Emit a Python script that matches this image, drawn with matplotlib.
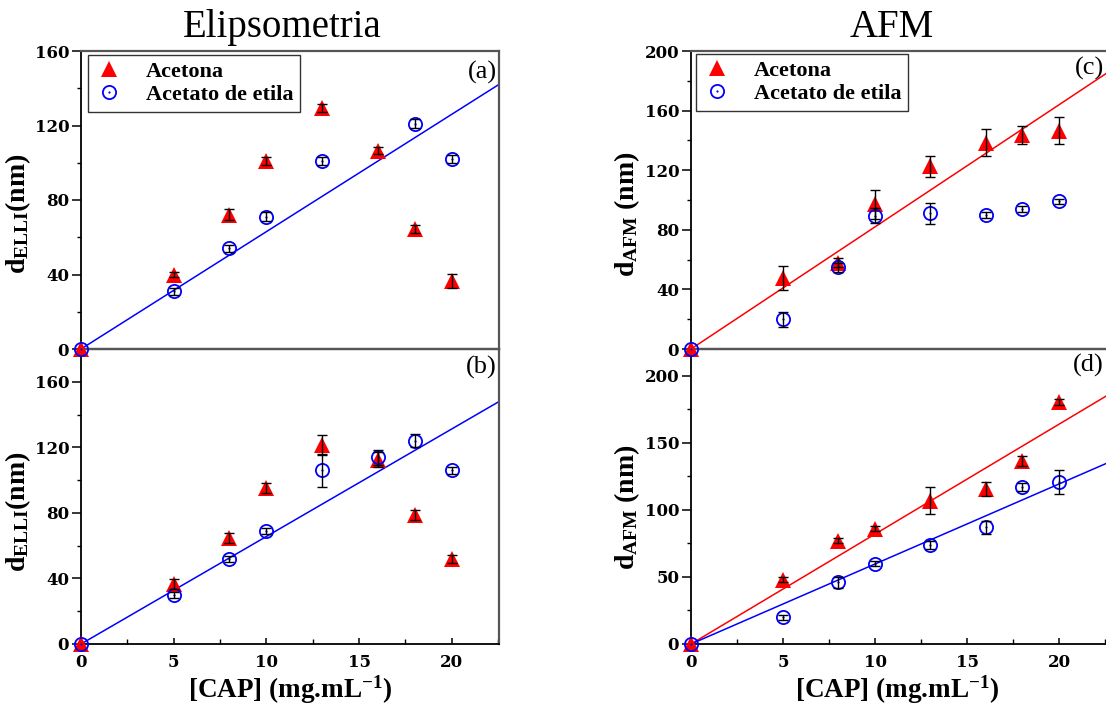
import numpy as np
import matplotlib
matplotlib.use("Agg")
import matplotlib.pyplot as plt
from matplotlib.ticker import MultipleLocator
from matplotlib.lines import Line2D

plt.rcParams['mathtext.fontset'] = 'custom'
plt.rcParams['mathtext.rm'] = 'Liberation Serif:bold'
plt.rcParams['mathtext.bf'] = 'Liberation Serif:bold'
plt.rcParams['mathtext.it'] = 'Liberation Serif:bold'

# ---------------- data ----------------
cap = [0, 5, 8, 10, 13, 16, 18, 20]
cap_etil_a = [0, 5, 8, 10, 13, 18, 20]

# (a) Elipsometria, top
acet_a = [0, 40, 72, 101, 129.5, 106.5, 64.5, 36.5]
acet_a_err = [0, 1.5, 3, 2, 2, 2, 2, 4]
etil_a = [0, 31, 54, 71, 101, 121, 102]
etil_a_err = [0, 2, 2, 2.5, 2, 2.5, 2]

# (b) Elipsometria, bottom
acet_b = [0, 36.5, 64.5, 95, 121.5, 112.5, 78.5, 52]
acet_b_err = [0, 3, 3, 3, 6, 4.5, 3, 2.5]
etil_b = [0, 30, 52, 69, 106, 114, 124, 106]
etil_b_err = [0, 2, 2, 2, 10, 4.5, 4, 2]

# (c) AFM, top
acet_c = [0, 47.5, 58, 97, 122.5, 138.5, 143.5, 146.5]
acet_c_err = [0, 8, 3, 10, 7, 9, 6, 9]
etil_c = [0, 20, 55, 89.5, 91, 90, 94, 99]
etil_c_err = [0, 5, 3, 5, 7, 2, 2, 2]

# (d) AFM, bottom
acet_d = [0, 48, 77, 86, 107, 115.5, 136.5, 180.5]
acet_d_err = [0, 2, 2, 2, 10, 5, 4, 2]
etil_d = [0, 20, 46, 60, 74, 87, 117, 121]
etil_d_err = [0, 2, 4, 2, 3, 5, 3, 9]

# linear fits through the origin (slopes, nm per mg/mL)
fit_a_etil = 6.3
fit_b_etil = 6.56
fit_c_acet = 8.2
fit_d_acet = 8.2
fit_d_etil = 5.97

labels = ["Acetona", "Acetato de etila"]
titles = ["Elipsometria", "AFM"]
panel_tags = ["(a)", "(b)", "(c)", "(d)"]

RED = '#ff0000'
BLUE = '#0000ff'
GRAY = '#555555'

W, H = 1106, 704
fig = plt.figure(figsize=(W / 100, H / 100), dpi=100)


def px_axes(x0, y0, x1, y1):
    return fig.add_axes([x0 / W, 1 - y1 / H, (x1 - x0) / W, (y1 - y0) / H])


axA = px_axes(81, 51, 499, 349)
axB = px_axes(81, 349, 499, 644)
axC = px_axes(691, 51, 1108, 349)
axD = px_axes(691, 349, 1108, 644)

TICKFONT = dict(family='DejaVu Serif', weight='bold', size=12)
LABELFONT = dict(family='Liberation Serif', weight='bold', size=20)


def draw_series(ax, xa, ya, ea, xe, ye, ee):
    xa, ya, ea = map(np.asarray, (xa, ya, ea))
    xe, ye, ee = map(np.asarray, (xe, ye, ee))
    ax.plot(xa, ya, '^', color=RED, ms=11, mew=0, clip_on=False, zorder=3)
    ax.plot(xe, ye, 'o', mfc='none', mec=BLUE, ms=9.5, mew=1.3,
            clip_on=False, zorder=4)
    ax.plot(xe, ye, 'o', color=BLUE, ms=1.6, mew=0, clip_on=False, zorder=4)
    m = ea > 0
    ax.errorbar(xa[m], ya[m], yerr=ea[m], fmt='none', ecolor='black',
                elinewidth=1.0, capsize=3.8, capthick=1.0, zorder=5)
    m = ee > 0
    ax.errorbar(xe[m], ye[m], yerr=ee[m], fmt='none', ecolor='black',
                elinewidth=1.0, capsize=3.8, capthick=1.0, zorder=5)


def style(ax, xmax, ymax, ymaj, top):
    ax.set_xlim(0, xmax)
    ax.set_ylim(0, ymax)
    ax.xaxis.set_major_locator(MultipleLocator(5))
    ax.xaxis.set_minor_locator(MultipleLocator(2.5))
    ax.yaxis.set_major_locator(MultipleLocator(ymaj))
    ax.yaxis.set_minor_locator(MultipleLocator(ymaj / 2))
    ax.tick_params(axis='y', which='major', direction='out', length=6.5,
                   width=1.1, pad=2, left=True, right=False)
    ax.tick_params(axis='y', which='minor', direction='out', length=3,
                   width=1.0, left=True, right=False)
    if top:
        ax.tick_params(axis='x', which='both', bottom=False, top=False,
                       labelbottom=False)
    else:
        ax.tick_params(axis='x', which='major', direction='in', length=4.5,
                       width=1.1, pad=7, top=False)
        ax.tick_params(axis='x', which='minor', direction='in', length=3.5,
                       width=1.0, top=False)
    ax.spines['left'].set_color('black')
    ax.spines['left'].set_linewidth(1.3)
    ax.spines['top'].set_color(GRAY)
    ax.spines['top'].set_linewidth(1.6)
    ax.spines['right'].set_color(GRAY)
    ax.spines['right'].set_linewidth(1.6)
    if top:
        ax.spines['bottom'].set_color(GRAY)
        ax.spines['bottom'].set_linewidth(1.6)
    else:
        ax.spines['bottom'].set_color('black')
        ax.spines['bottom'].set_linewidth(1.3)
    ax.set_facecolor('none')


# panel (a)
draw_series(axA, cap, acet_a, acet_a_err, cap_etil_a, etil_a, etil_a_err)
axA.axline((0, 0), slope=fit_a_etil, color=BLUE, lw=1.1, zorder=2)
style(axA, 22.55, 160, 40, True)

# panel (b)
draw_series(axB, cap, acet_b, acet_b_err, cap, etil_b, etil_b_err)
axB.axline((0, 0), slope=fit_b_etil, color=BLUE, lw=1.1, zorder=2)
style(axB, 22.55, 180, 40, False)
axB.set_yticks([0, 40, 80, 120, 160])

# panel (c)
draw_series(axC, cap, acet_c, acet_c_err, cap, etil_c, etil_c_err)
axC.axline((0, 0), slope=fit_c_acet, color=RED, lw=1.1, zorder=2)
style(axC, 22.65, 200, 40, True)

# panel (d)
draw_series(axD, cap, acet_d, acet_d_err, cap, etil_d, etil_d_err)
axD.axline((0, 0), slope=fit_d_acet, color=RED, lw=1.1, zorder=2)
axD.axline((0, 0), slope=fit_d_etil, color=BLUE, lw=1.1, zorder=2)
style(axD, 22.65, 220, 50, False)
axD.set_yticks([0, 50, 100, 150, 200])

for ax in (axA, axB, axC, axD):
    for lab in ax.get_xticklabels() + ax.get_yticklabels():
        lab.set_fontfamily(TICKFONT['family'])
        lab.set_fontweight(TICKFONT['weight'])
        lab.set_fontsize(TICKFONT['size'])

# top panels drawn above bottom panels
axA.set_zorder(2)
axC.set_zorder(2)

# y labels
axA.set_ylabel(r'd$_{\mathrm{ELLI}}$(nm)', **LABELFONT)
axB.set_ylabel(r'd$_{\mathrm{ELLI}}$(nm)', **LABELFONT)
axC.set_ylabel(r'd$_{\mathrm{AFM}}$ (nm)', **LABELFONT)
axD.set_ylabel(r'd$_{\mathrm{AFM}}$ (nm)', **LABELFONT)
axA.yaxis.set_label_coords(-0.115, 0.453)
axB.yaxis.set_label_coords(-0.115, 0.448)
axC.yaxis.set_label_coords(-0.1175, 0.453)
axD.yaxis.set_label_coords(-0.1175, 0.465)

# x labels
XLABELFONT = dict(family='Liberation Serif', weight='bold', size=19.5)
axB.set_xlabel(r'[CAP] (mg.mL$^{\mathrm{-1}}$)', **XLABELFONT)
axD.set_xlabel(r'[CAP] (mg.mL$^{\mathrm{-1}}$)', **XLABELFONT)
axB.xaxis.set_label_coords(0.5, -0.1)
axD.xaxis.set_label_coords(0.495, -0.1)

# panel tags
for ax, tag, dy in ((axA, panel_tags[0], -21), (axB, panel_tags[1], -18),
                    (axC, panel_tags[2], -17), (axD, panel_tags[3], -16)):
    ax.annotate(tag, xy=(1, 1), xycoords='axes fraction',
                xytext=(-2 if ax in (axA, axB) else -4, dy),
                textcoords='offset pixels', ha='right', va='center',
                family='Liberation Serif', size=19, zorder=10)


# legends
def legend_handles():
    h1 = Line2D([], [], ls='none', marker='^', color=RED, ms=11, mew=0)
    h2a = Line2D([], [], ls='none', marker='o', mfc='none', mec=BLUE,
                 ms=9.5, mew=1.3)
    h2b = Line2D([], [], ls='none', marker='o', color=BLUE, ms=1.6, mew=0)
    return [h1, (h2a, h2b)]


for ax, off in ((axA, (7, 4)), (axC, (5, 3))):
    bb = ax.get_position()
    fx = off[0] / W / bb.width
    fy = 1 - off[1] / H / bb.height
    leg = ax.legend(legend_handles(), labels, loc='upper left',
                    bbox_to_anchor=(fx, fy), borderaxespad=0,
                    prop=dict(family='Liberation Serif', weight='bold', size=16),
                    frameon=True, fancybox=False, edgecolor='#333333',
                    framealpha=1, handlelength=1.3, handletextpad=1.0,
                    labelspacing=0.1, borderpad=0.3)
    leg.get_frame().set_linewidth(1.0)
    leg.set_zorder(10)

# titles
fig.text(282 / W, 1 - 37 / H, titles[0], ha='center', va='baseline',
         family='Liberation Serif', size=28)
fig.text(892 / W, 1 - 37 / H, titles[1], ha='center', va='baseline',
         family='Liberation Serif', size=28)

fig.savefig('out.png', dpi=100)
